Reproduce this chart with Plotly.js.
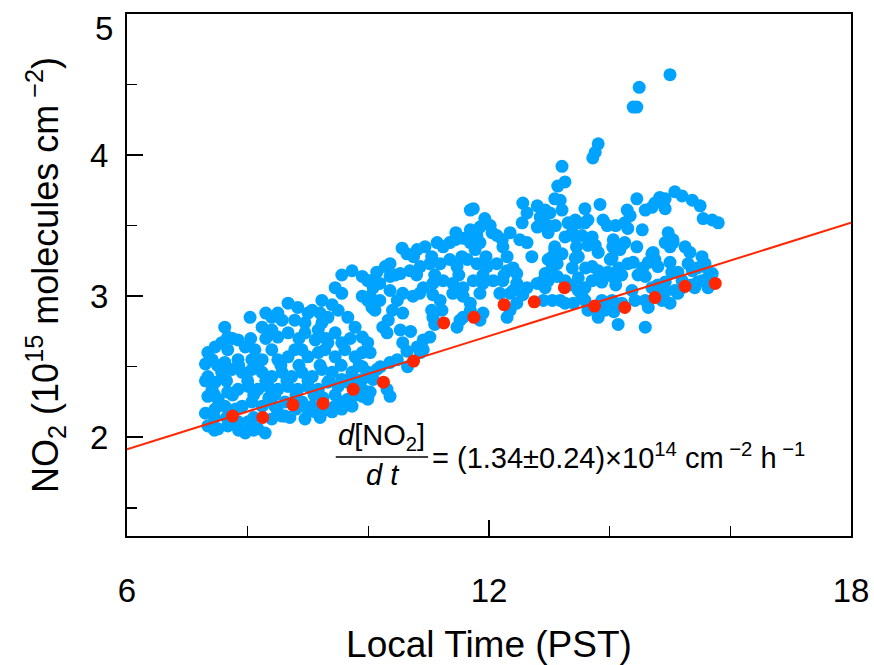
<!DOCTYPE html>
<html>
<head>
<meta charset="utf-8">
<script src="https://cdn.plot.ly/plotly-3.0.1.min.js"></script>
<style>html,body{margin:0;padding:0;background:#fff;}#chart{width:874px;height:665px;}</style>
</head>
<body>
<div id="chart"></div>
<script>
// Blue: individual NO2 column observations (hour PST, 1e15 molecules cm^-2)
const blueHour = [
 9.73,9.56,9.90,9.99,9.45,9.56,9.90,9.99,10.06,9.23,
 9.40,9.33,9.23,8.67,8.83,9.07,8.40,8.57,8.78,8.95,
 8.04,8.24,9.50,9.66,9.78,9.90,9.99,9.45,9.56,8.95,
 9.12,9.17,8.40,8.50,8.67,7.62,7.67,7.84,7.96,8.12,
 7.46,7.34,7.41,7.57,7.67,8.40,8.50,8.67,8.78,8.90,
 9.00,9.17,9.28,9.33,9.45,9.61,9.78,9.90,7.34,7.46,
 7.41,7.57,7.74,7.91,8.07,8.24,7.62,7.84,8.07,8.24,
 8.40,8.57,8.73,8.90,9.07,9.23,9.40,9.56,9.73,9.90,
 9.99,9.90,7.34,7.51,7.67,7.84,8.01,8.17,8.34,8.50,
 8.67,8.83,9.00,9.17,9.33,9.50,9.66,9.78,9.90,9.99,
 7.46,7.62,7.91,8.07,8.24,8.45,8.62,8.50,8.62,8.90,
 9.07,9.12,9.45,9.56,9.66,9.90,9.99,7.34,7.51,7.67,
 7.84,8.01,8.17,8.29,8.40,8.57,7.96,9.00,8.95,9.23,
 9.40,9.33,9.56,9.73,7.30,7.30,7.80,8.35,9.25,8.80,
 11.74,11.69,12.56,12.80,12.63,12.85,12.55,12.80,12.51,12.63,
 12.90,12.98,12.71,12.40,12.46,12.90,12.80,11.93,12.02,11.85,
 11.69,11.80,12.13,12.22,12.23,11.57,11.44,11.35,11.69,11.85,
 11.77,11.14,11.24,10.94,10.81,10.56,10.64,10.36,10.28,10.14,
 10.03,10.08,10.19,10.36,10.53,10.69,10.86,11.02,11.19,11.35,
 11.47,11.64,11.80,11.97,12.13,12.30,10.36,10.57,10.74,10.91,
 11.07,11.24,11.40,11.57,11.74,11.90,12.07,12.23,12.46,10.03,
 10.19,11.07,11.19,11.57,11.69,12.18,12.40,12.63,10.48,10.57,
 11.07,11.52,11.47,11.57,11.69,11.85,11.90,12.30,12.35,12.46,
 12.56,12.90,10.24,10.31,10.53,10.57,10.91,11.02,10.81,10.64,
 10.48,10.86,10.91,10.36,10.14,10.08,10.31,10.36,10.03,10.03,
 10.11,10.33,11.22,11.10,
 15.00,14.49,14.39,14.45,13.81,13.76,13.72,13.21,13.26,13.14,
 13.09,13.18,13.21,13.01,12.98,13.59,13.84,13.31,13.43,13.59,
 13.89,13.96,13.26,13.38,13.71,13.76,13.64,13.09,13.14,13.81,
 13.48,14.04,14.45,14.34,14.25,14.30,14.54,14.20,14.17,14.59,
 14.70,14.83,14.92,15.08,15.20,15.37,15.50,15.55,15.70,15.80,
 14.92,14.75,14.97,15.05,15.00,14.72,15.33,15.53,12.93,14.29,
 13.48,13.64,13.43,13.54,13.09,13.05,13.21,13.43,13.05,13.38,
 12.93,13.13,13.26,13.48,13.71,13.81,13.97,14.01,13.59,13.54,
 13.71,13.87,14.04,14.20,14.25,14.30,14.39,14.47,14.59,14.70,
 14.75,14.64,14.80,15.00,15.03,14.92,15.05,15.58,15.30,15.37,
 15.13,15.20,14.92,14.87,14.70,14.59,14.64,14.42,14.37,14.04,
 13.92,13.81,14.14,14.59,13.59,13.48,13.64,13.87,14.87,14.92,
 15.08,15.20,15.13,15.41,15.46,15.53,15.63,15.70,15.58,13.05,
 13.18,13.26,12.93,12.98,12.98,13.13,14.07,15.63,14.06,
 7.45,7.75,8.10,8.45,8.80,9.10,9.45,9.80,
 7.30,7.65,8.00,8.30,8.65,9.00,9.35,9.65,
 7.50,7.85,8.15,8.55,8.85,9.20,9.55,9.85,
 7.75,8.05,8.30,8.85,9.30,9.70,
 8.30,8.50,9.00,9.20,
 7.45,7.65,8.10,8.70,9.20,
 7.45,7.85,8.10,
 10.45,10.80,11.10,11.50,11.90,12.25,
 10.75,11.05,11.55,11.95,12.30,
 10.85,11.40,11.85,12.35,
 11.45,12.05,12.35,
 10.40,11.05,10.70,10.20,10.65,
 13.45,14.05,14.45,15.25,
 13.60,14.15,14.55,15.45,
 13.35,14.10,14.80,15.35,
 13.40,14.20,15.00,
 13.10,14.10
];
const blueNO2 = [
 3.18,3.15,3.14,3.11,3.06,3.02,3.00,2.97,2.92,2.97,
 2.94,2.85,2.81,2.95,2.92,2.90,2.85,2.83,2.83,2.81,
 2.85,2.78,2.90,2.85,2.78,2.71,2.67,2.74,2.67,2.74,
 2.69,2.76,2.76,2.71,2.74,2.78,2.71,2.69,2.64,2.62,
 2.64,2.60,2.55,2.67,2.62,2.62,2.55,2.57,2.62,2.62,
 2.57,2.60,2.62,2.67,2.57,2.62,2.57,2.60,2.43,2.39,
 2.34,2.46,2.48,2.46,2.48,2.46,2.53,2.55,2.55,2.55,
 2.43,2.46,2.43,2.46,2.43,2.48,2.46,2.41,2.46,2.50,
 2.46,2.41,2.29,2.27,2.32,2.34,2.36,2.34,2.36,2.34,
 2.36,2.34,2.36,2.34,2.39,2.36,2.39,2.41,2.34,2.32,
 2.20,2.22,2.22,2.25,2.22,2.22,2.25,2.18,2.15,2.25,
 2.22,2.18,2.22,2.25,2.27,2.29,2.27,2.08,2.06,2.08,
 2.11,2.11,2.06,2.03,2.13,2.15,2.03,2.18,2.13,2.18,
 2.18,2.20,2.20,2.22,2.17,2.52,2.20,2.28,2.28,2.20,
 3.62,3.61,3.66,3.64,3.59,3.56,3.52,3.49,3.40,3.38,
 3.52,3.45,3.28,3.20,3.16,3.11,3.09,3.55,3.50,3.49,
 3.47,3.43,3.43,3.40,3.35,3.41,3.40,3.38,3.38,3.38,
 3.33,3.38,3.35,3.35,3.33,3.34,3.30,3.23,3.21,3.17,
 3.11,3.06,3.09,3.14,3.16,3.18,3.21,3.23,3.23,3.26,
 3.21,3.26,3.23,3.21,3.23,3.18,3.04,3.02,3.00,3.06,
 3.09,3.11,3.09,3.06,3.11,3.09,3.11,3.11,3.09,3.00,
 2.97,3.01,2.97,3.00,2.95,3.02,3.04,3.06,2.97,2.88,
 2.85,2.83,2.78,2.85,2.90,2.83,2.88,2.85,2.90,2.95,
 3.01,2.97,2.78,2.74,2.76,2.67,2.69,2.71,2.64,2.61,
 2.55,2.60,2.62,2.53,2.48,2.41,2.34,2.29,2.60,2.32,
 2.90,2.83,2.90,2.80,
 4.57,4.48,4.34,4.34,4.08,4.02,3.98,3.92,3.81,3.78,
 3.69,3.68,3.61,3.59,3.50,3.62,3.65,3.52,3.54,3.52,
 3.54,3.50,3.42,3.45,3.42,3.36,3.36,3.33,3.30,3.31,
 3.28,3.27,3.69,3.57,3.52,3.48,3.47,3.36,3.33,3.61,
 3.63,3.70,3.69,3.74,3.71,3.68,3.64,3.55,3.54,3.52,
 3.62,3.66,3.45,3.38,3.35,3.31,3.31,3.28,3.61,3.61,
 3.52,3.54,3.42,3.43,3.35,3.28,3.30,3.27,3.21,3.20,
 3.16,3.14,3.11,3.13,3.21,3.18,3.17,3.26,3.06,3.00,
 3.11,3.10,3.14,3.15,3.38,3.23,3.24,3.15,3.14,3.30,
 3.26,3.24,3.21,3.24,3.17,3.38,3.40,3.23,3.23,3.18,
 3.17,3.11,3.10,3.04,3.06,2.97,2.92,2.97,3.04,2.97,
 2.90,2.85,2.80,2.78,2.97,3.04,2.90,2.97,2.97,3.03,
 3.04,3.06,3.02,3.06,3.10,3.11,3.13,3.16,3.21,2.97,
 2.97,2.95,3.06,3.11,3.26,3.23,2.89,3.06,3.40,
 2.30,2.30,2.30,2.30,2.30,2.30,2.30,2.30,
 2.40,2.40,2.40,2.40,2.40,2.40,2.40,2.40,
 2.51,2.51,2.51,2.51,2.51,2.51,2.51,2.51,
 2.70,2.70,2.70,2.70,2.70,2.70,
 2.88,2.88,2.88,2.88,
 2.14,2.14,2.14,2.14,2.14,
 2.05,2.05,2.05,
 3.15,3.15,3.15,3.15,3.15,3.15,
 3.28,3.28,3.28,3.28,3.28,
 3.02,3.02,3.02,3.02,
 3.45,3.45,3.45,
 2.90,2.90,2.75,2.50,2.50,
 3.35,3.35,3.35,3.35,
 3.20,3.20,3.20,3.20,
 3.08,3.08,3.08,3.08,
 2.95,2.95,2.95,
 3.50,3.50
];
// Red: half-hourly lower values used for the fit
const redHour = [7.75,8.25,8.75,9.25,9.75,10.25,10.75,11.25,11.75,12.25,12.75,13.25,13.75,14.25,14.75,15.25,15.75];
const redNO2  = [2.15,2.14,2.23,2.24,2.34,2.39,2.54,2.81,2.85,2.94,2.96,3.06,2.93,2.92,2.99,3.07,3.09];
// Fit line end points
const fitHour = [6, 18];
const fitNO2  = [1.915, 3.52];
// Axis ticks
const xTickVals = [6, 12, 18];
const xTickText = ['6', '12', '18'];
const yTickVals = [2, 3, 4];
const yTickText = ['2', '3', '4'];
const yTopLabel = '5';

const FONT = 'Liberation Sans, Arial, Helvetica, sans-serif';
const BLUE = 'rgb(0,163,255)';
const RED = 'rgb(255,38,0)';

const traces = [
  {x: blueHour, y: blueNO2, type: 'scatter', mode: 'markers',
   marker: {color: BLUE, size: 13, line: {width: 0}}, hoverinfo: 'skip'},
  {x: fitHour, y: fitNO2, type: 'scatter', mode: 'lines',
   line: {color: RED, width: 2}, hoverinfo: 'skip'},
  {x: redHour, y: redNO2, type: 'scatter', mode: 'markers',
   marker: {color: RED, size: 13, line: {width: 0}}, hoverinfo: 'skip'}
];

const axisCommon = {
  showline: true, mirror: true, linecolor: 'black', linewidth: 2,
  showgrid: false, zeroline: false,
  ticks: 'inside', tickcolor: 'black', tickwidth: 1.5, ticklen: 16,
  tickfont: {family: FONT, size: 33, color: 'black'}
};

const layout = {
  width: 874, height: 665,
  margin: {l: 127, r: 23, t: 14, b: 129},
  paper_bgcolor: 'white', plot_bgcolor: 'white',
  showlegend: false,
  font: {family: FONT, color: 'black'},
  xaxis: Object.assign({}, axisCommon, {
    range: [6, 18], tickmode: 'array', tickvals: xTickVals, ticktext: xTickText,
    ticklabelstandoff: 24,
    minor: {dtick: 2, ticks: 'inside', ticklen: 10, tickwidth: 1.5, tickcolor: 'black', showgrid: false},
    title: {text: 'Local Time (PST)', font: {family: FONT, size: 37, color: 'black'}, standoff: 25}
  }),
  yaxis: Object.assign({}, axisCommon, {
    range: [1.3, 5.0], tickmode: 'array', tickvals: yTickVals, ticktext: yTickText,
    ticklabelstandoff: 10,
    minor: {dtick: 0.5, ticks: 'inside', ticklen: 10, tickwidth: 1.5, tickcolor: 'black', showgrid: false},
    title: {text: 'NO<sub>2</sub> (10<sup>15</sup> molecules cm<sup> −2</sup>)', font: {family: FONT, size: 36, color: 'black'}, standoff: 20}
  }),
  shapes: [
    {type: 'line', xref: 'x', yref: 'y', x0: 9.46, x1: 10.99, y0: 1.86, y1: 1.86,
     line: {color: 'black', width: 1.5}}
  ],
  annotations: [
    {xref: 'paper', yref: 'y', x: 0, y: 5, text: yTopLabel, showarrow: false,
     xanchor: 'right', yanchor: 'middle', xshift: -12, yshift: -14,
     font: {family: FONT, size: 33, color: 'black'}},
    {xref: 'x', yref: 'y', x: 10.22, y: 2.0, text: '<i>d</i>[NO<sub>2</sub>]', showarrow: false,
     xanchor: 'center', yanchor: 'middle', font: {family: FONT, size: 29, color: 'black'}},
    {xref: 'x', yref: 'y', x: 10.25, y: 1.73, text: '<i>d t</i>', showarrow: false,
     xanchor: 'center', yanchor: 'middle', font: {family: FONT, size: 29, color: 'black'}},
    {xref: 'x', yref: 'y', x: 11.03, y: 1.87, text: '= (1.34±0.24)×10<sup>14</sup> cm<sup> −2</sup> h<sup> −1</sup>', showarrow: false,
     xanchor: 'left', yanchor: 'middle', font: {family: FONT, size: 29, color: 'black'}}
  ]
};

Plotly.newPlot('chart', traces, layout, {displayModeBar: false, staticPlot: true});
</script>
</body>
</html>
